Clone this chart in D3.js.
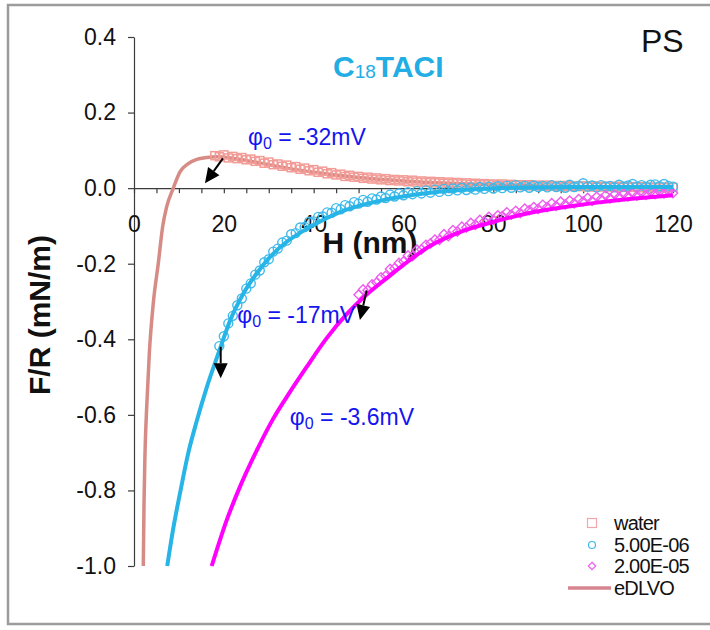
<!DOCTYPE html>
<html><head><meta charset="utf-8">
<script src="https://cdn.jsdelivr.net/npm/d3@7"></script>
<style>html,body{margin:0;padding:0;background:#fff;}svg{display:block;font-family:Arial,"Liberation Sans",sans-serif;}</style>
</head><body>
<svg id="chart" width="710" height="630"></svg>
<script>
// ---------- DATA ----------
const yTicks = [-1.0, -0.8, -0.6, -0.4, -0.2, 0.0, 0.2, 0.4];
const xTicks = [0,5,10,15,20,25,30,35,40,45,50,55,60,65,70,75,80,85,90,95,100,105,110,115,120];
const xLabelTicks = [0,20,40,60,80,100,120];

// water data (squares), H = 18..120 nm
const waterH = d3.range(18, 121);
const waterF = [0.086,0.083,0.088,0.080,0.084,0.078,0.081,0.075,0.077,0.071,
  0.073,0.066,0.069,0.062,0.064,0.058,0.061,0.054,0.057,0.050,
  0.053,0.046,0.049,0.042,0.045,0.038,0.041,0.035,0.037,0.031,
  0.034,0.029,0.031,0.026,0.029,0.024,0.027,0.022,0.025,0.020,
  0.023,0.019,0.022,0.017,0.021,0.016,0.019,0.015,0.018,0.014,
  0.017,0.013,0.016,0.012,0.015,0.011,0.014,0.010,0.013,0.009,
  0.012,0.009,0.011,0.008,0.011,0.007,0.010,0.007,0.009,0.006,
  0.009,0.006,0.008,0.005,0.008,0.005,0.007,0.004,0.007,0.004,
  0.006,0.004,0.006,0.003,0.006,0.003,0.005,0.003,0.005,0.002,
  0.005,0.002,0.004,0.002,0.004,0.001,0.004,0.001,0.003,0.001,
  0.003,0.001,0.002];

// 5.00E-06 data (circles), H = 19..120 nm
const c5H = d3.range(19, 121);
const c5F = [-0.418,-0.392,-0.358,-0.338,-0.310,-0.292,-0.266,-0.252,-0.229,-0.218,
  -0.196,-0.188,-0.168,-0.160,-0.144,-0.139,-0.122,-0.119,-0.104,-0.103,
  -0.089,-0.088,-0.076,-0.075,-0.064,-0.065,-0.053,-0.056,-0.045,-0.048,
  -0.037,-0.041,-0.031,-0.036,-0.027,-0.030,-0.022,-0.026,-0.017,-0.022,
  -0.014,-0.019,-0.011,-0.016,-0.008,-0.014,-0.006,-0.012,-0.004,-0.010,
  -0.002,-0.008,-0.001,-0.006,0.001,-0.005,0.002,-0.004,0.003,-0.002,
  0.004,-0.001,0.005,0.000,0.006,0.001,0.008,0.002,0.006,0.001,
  0.007,0.003,0.006,0.002,0.008,0.003,0.006,0.001,0.009,0.003,
  0.006,0.013,0.004,0.007,0.002,0.008,0.004,0.006,0.002,0.009,
  0.004,0.007,0.011,0.004,0.008,0.003,0.009,0.010,0.005,0.011,
  0.006,0.004];

// 2.00E-05 data (diamonds), H = 50..120 nm
const c20H = d3.range(50, 121);
const c20F = [-0.282,-0.268,-0.270,-0.255,-0.250,-0.236,-0.232,-0.214,-0.212,-0.198,
  -0.194,-0.178,-0.180,-0.163,-0.162,-0.150,-0.146,-0.136,-0.137,-0.122,
  -0.127,-0.111,-0.115,-0.102,-0.104,-0.092,-0.097,-0.084,-0.088,-0.076,
  -0.084,-0.072,-0.074,-0.064,-0.070,-0.060,-0.066,-0.054,-0.058,-0.050,
  -0.055,-0.044,-0.050,-0.040,-0.047,-0.036,-0.043,-0.033,-0.040,-0.029,
  -0.035,-0.026,-0.034,-0.023,-0.029,-0.019,-0.027,-0.017,-0.024,-0.015,
  -0.022,-0.013,-0.020,-0.012,-0.018,-0.010,-0.016,-0.009,-0.014,-0.008,
  -0.013];

// eDLVO fits
const fitWaterH = [2.07,2.23,2.45,2.83,3.41,4.3,5.41,6.4,7.28,8.75,10.24,12.09,13.96,16.19,18.4,22,26,30,35,40,50,60,70,80,90,100,110,120];
const fitWaterF = [-1.0,-0.833,-0.701,-0.579,-0.437,-0.304,-0.199,-0.1,-0.049,0,0.043,0.065,0.076,0.081,0.083,0.079,0.071,0.062,0.051,0.042,0.028,0.019,0.013,0.009,0.006,0.004,0.003,0.002];
const fitC5H = [7.4,8.75,10.2,12.1,14,16.2,18.8,21.4,24.3,27.3,30.3,34,37.7,40.7,44,47,51,55,58.5,62,66,70,74,80,90,100,110,120];
const fitC5F = [-1.0,-0.90,-0.81,-0.70,-0.615,-0.527,-0.437,-0.35,-0.28,-0.226,-0.182,-0.142,-0.113,-0.093,-0.073,-0.058,-0.044,-0.033,-0.025,-0.018,-0.012,-0.007,-0.004,0.0,0.002,0.003,0.003,0.003];
const fitC20H = [17.3,20.6,23.6,27.5,31,34.7,38.4,42.9,47.4,51.5,56.3,60,65.9,73.3,80.7,88,96,104,112,120];
const fitC20F = [-1.0,-0.88,-0.79,-0.69,-0.61,-0.54,-0.474,-0.397,-0.333,-0.285,-0.238,-0.203,-0.153,-0.113,-0.087,-0.066,-0.050,-0.037,-0.027,-0.019];

const legendLabels = ["water","5.00E-06","2.00E-05","eDLVO"];
const annotations = [
  {label:" = -32mV", tx:25.4, ty:0.114, ax1:19.8, ay1:0.079, ax2:15.8, ay2:0.013},
  {label:" = -17mV", tx:23.0, ty:-0.357, ax1:19.3, ay1:-0.42, ax2:19.3, ay2:-0.503},
  {label:" = -3.6mV", tx:34.7, ty:-0.627, ax1:51.8, ay1:-0.271, ax2:50.3, ay2:-0.349}
];

// ---------- STYLE ----------
const colWater = "#F39C97", colFitWater = "#D68B85";
const colC5 = "#3FBAEA", colFitC5 = "#27B4E6";
const colC20 = "#EE5CEE", colFitC20 = "#FF00FF";
const axisCol = "#3c3c3c";

const svg = d3.select("#chart");
// frame
svg.append("rect").attr("x",8).attr("y",5).attr("width",720).attr("height",619)
  .attr("fill","none").attr("stroke","#9c9c9c").attr("stroke-width",2.5);

const x = d3.scaleLinear().domain([0,120]).range([134,673]);
const y = d3.scaleLinear().domain([-1,0.4]).range([566,37]);

svg.append("defs").append("clipPath").attr("id","clip")
  .append("rect").attr("x",134).attr("y",30).attr("width",560).attr("height",537);

// axes
const yAxis = d3.axisLeft(y).tickValues(yTicks).tickSize(6).tickSizeOuter(0).tickPadding(12)
  .tickFormat(d => d.toFixed(1));
const gy = svg.append("g").attr("transform",`translate(${x(0)},0)`).call(yAxis);
gy.selectAll("path,line").attr("stroke",axisCol).attr("stroke-width",1.2);
gy.selectAll("text").attr("font-size",23).attr("fill","#111").attr("font-family","Arial, 'Liberation Sans', sans-serif");

const xAxis = d3.axisBottom(x).tickValues(xTicks).tickSize(5).tickSizeOuter(0).tickPadding(23)
  .tickFormat(d => xLabelTicks.includes(d) ? String(d) : "");
const gx = svg.append("g").attr("transform",`translate(0,${y(0)})`).call(xAxis);
gx.selectAll("path,line").attr("stroke",axisCol).attr("stroke-width",1.2);
gx.selectAll("text").attr("font-size",23).attr("fill","#111").attr("font-family","Arial, 'Liberation Sans', sans-serif");

// axis titles
svg.append("text").attr("x",370).attr("y",253).attr("text-anchor","middle")
  .attr("font-size",30).attr("font-weight","bold").attr("fill","#111").text("H (nm)");
svg.append("text").attr("transform","translate(50,315) rotate(-90)").attr("text-anchor","middle")
  .attr("font-size",30).attr("font-weight","bold").attr("fill","#111").text("F/R (mN/m)");

// title & PS
const t = svg.append("text").attr("x",333).attr("y",77).attr("font-size",30).attr("font-weight","bold").attr("fill","#22ADE4");
t.append("tspan").text("C");
t.append("tspan").attr("font-size",19).attr("font-weight","normal").attr("dy",1).text("18");
t.append("tspan").attr("dy",-1).text("TACI");
svg.append("text").attr("x",641).attr("y",52).attr("font-size",32).attr("fill","#111").text("PS");

const plot = svg.append("g").attr("clip-path","url(#clip)");
const line = d3.line().x(d=>x(d[0])).y(d=>y(d[1])).curve(d3.curveMonotoneX);

// fit water line under points
plot.append("path").datum(d3.zip(fitWaterH, fitWaterF)).attr("d",line)
  .attr("fill","none").attr("stroke",colFitWater).attr("stroke-width",3.5);

// water squares
plot.append("g").selectAll("rect").data(d3.zip(waterH, waterF)).join("rect")
  .attr("x",d=>x(d[0])-4).attr("y",d=>y(d[1])-4).attr("width",8).attr("height",8)
  .attr("fill","none").attr("stroke",colWater).attr("stroke-width",1.5);

// circles
plot.append("g").selectAll("circle").data(d3.zip(c5H, c5F)).join("circle")
  .attr("cx",d=>x(d[0])).attr("cy",d=>y(d[1])).attr("r",4.5)
  .attr("fill","none").attr("stroke",colC5).attr("stroke-width",1.4);

// diamonds
const diamond = d3.symbol().type(d3.symbolDiamond2).size(55);
plot.append("g").selectAll("path").data(d3.zip(c20H, c20F)).join("path")
  .attr("transform",d=>`translate(${x(d[0])},${y(d[1])})`).attr("d",diamond)
  .attr("fill","none").attr("stroke",colC20).attr("stroke-width",1.4);

// fit lines
plot.append("path").datum(d3.zip(fitC5H, fitC5F)).attr("d",line)
  .attr("fill","none").attr("stroke",colFitC5).attr("stroke-width",4);
plot.append("path").datum(d3.zip(fitC20H, fitC20F)).attr("d",line)
  .attr("fill","none").attr("stroke",colFitC20).attr("stroke-width",4);

// annotations
annotations.forEach(a => {
  const tx = svg.append("text").attr("x",x(a.tx)).attr("y",y(a.ty)).attr("font-size",23).attr("fill","#1414F0");
  tx.append("tspan").text("φ");
  tx.append("tspan").attr("font-size",16).attr("dy",4).text("0");
  tx.append("tspan").attr("dy",-4).text(a.label);
  const x1=x(a.ax1), y1=y(a.ay1), x2=x(a.ax2), y2=y(a.ay2);
  const ang = Math.atan2(y2-y1, x2-x1), L=15, hw=7;
  const bx = x2 - L*Math.cos(ang), by = y2 - L*Math.sin(ang);
  svg.append("line").attr("x1",x1).attr("y1",y1).attr("x2",bx).attr("y2",by)
    .attr("stroke","#000").attr("stroke-width",2);
  svg.append("path").attr("d",`M${x2},${y2}L${bx - hw*Math.sin(ang)},${by + hw*Math.cos(ang)}L${bx + hw*Math.sin(ang)},${by - hw*Math.cos(ang)}Z`)
    .attr("fill","#000");
});

// legend
const legRows = [523, 545, 566, 588];
const lg = svg.append("g");
lg.append("rect").attr("x",587.5).attr("y",legRows[0]-4.5).attr("width",9).attr("height",9)
  .attr("fill","none").attr("stroke","#F2A6AC").attr("stroke-width",1.2);
lg.append("circle").attr("cx",592).attr("cy",legRows[1]).attr("r",3.5)
  .attr("fill","none").attr("stroke",colC5).attr("stroke-width",1.2);
lg.append("path").attr("transform",`translate(592,${legRows[2]})`).attr("d",d3.symbol().type(d3.symbolDiamond2).size(35))
  .attr("fill","none").attr("stroke",colC20).attr("stroke-width",1.2);
lg.append("line").attr("x1",568).attr("x2",611).attr("y1",legRows[3]).attr("y2",legRows[3])
  .attr("stroke","#D6868E").attr("stroke-width",3.5);
legendLabels.forEach((l,i) => {
  lg.append("text").attr("x",614).attr("y",legRows[i]+7).attr("font-size",20).attr("fill","#111")
    .attr("letter-spacing",-0.8).text(l);
});
</script>
</body></html>
